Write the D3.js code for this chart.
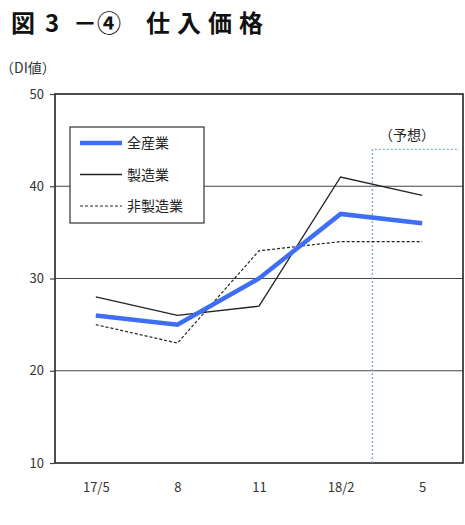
<!DOCTYPE html>
<html>
<head>
<meta charset="utf-8">
<script src="https://cdn.jsdelivr.net/npm/d3@7"></script>
<style>
  body { margin: 0; background: #fff; }
  svg text { font-family: "Noto Sans CJK JP", "Noto Sans", sans-serif; }
</style>
</head>
<body>
<svg width="465" height="525"></svg>
<script>
// data
var categories = ['17/5', '8', '11', '18/2', '5'];
var allIndustry = [26, 25, 30, 37, 36];      // 全産業
var manufacturing = [28, 26, 27, 41, 39];    // 製造業
var nonManufacturing = [25, 23, 33, 34, 34]; // 非製造業
var yTicks = [10, 20, 30, 40, 50];
var forecastTop = 44;

var seriesList = [
    {name: '全産業', values: allIndustry, color: '#3d6ef5', width: 4.5, dash: null},
    {name: '製造業', values: manufacturing, color: '#222', width: 1.3, dash: null},
    {name: '非製造業', values: nonManufacturing, color: '#222', width: 1.2, dash: '3,2'}
];

var svg = d3.select('svg');
var plotLeft = 55, plotRight = 463, plotTop = 94, plotBottom = 463;

var xScale = d3.scalePoint()
    .domain(categories)
    .range([plotLeft, plotRight])
    .padding(0.5);

var yScale = d3.scaleLinear()
    .domain([10, 50])
    .range([plotBottom, plotTop]);

// title, split in pieces to get the wide spacing of the original
var title = svg.append('text')
    .attr('y', 32)
    .attr('font-size', 24).attr('font-weight', 'bold')
    .attr('fill', '#111');
title.append('tspan').attr('x', 11).text('図');
title.append('tspan').attr('x', 45).text('3');
title.append('tspan').attr('x', 73).text('－④');
title.append('tspan').attr('x', 146).attr('letter-spacing', 7).text('仕入価格');

svg.append('text')
    .attr('x', 0).attr('y', 73)
    .attr('font-size', 14).attr('fill', '#333')
    .text('（DI値）');

// gridlines
yTicks.filter(d => d > 10 && d < 50).forEach(function(t){
    svg.append('line')
        .attr('x1', plotLeft).attr('x2', plotRight)
        .attr('y1', yScale(t)).attr('y2', yScale(t))
        .attr('stroke', '#444').attr('stroke-width', 1.2);
});

// frame
svg.append('rect')
    .attr('x', plotLeft).attr('y', plotTop)
    .attr('width', plotRight - plotLeft).attr('height', plotBottom - plotTop)
    .attr('fill', 'none').attr('stroke', '#222').attr('stroke-width', 1.6);

// y axis
var yAxisG = svg.append('g')
    .attr('transform', `translate(${plotLeft},0)`)
    .call(d3.axisLeft(yScale).tickValues(yTicks).tickSize(5).tickPadding(6));
yAxisG.select('.domain').remove();
yAxisG.selectAll('line').attr('stroke', '#444').attr('stroke-width', 1.2);
yAxisG.selectAll('text').attr('font-size', 13).attr('fill', '#333')
    .style('font-family', '"Noto Sans CJK JP", sans-serif');

// x axis labels
var xAxisG = svg.append('g')
    .attr('transform', `translate(0,${plotBottom})`)
    .call(d3.axisBottom(xScale).tickSize(0).tickPadding(20));
xAxisG.select('.domain').remove();
xAxisG.selectAll('text').attr('font-size', 13).attr('fill', '#333')
    .style('font-family', '"Noto Sans CJK JP", sans-serif');

// forecast marker
var step = xScale.step();
var fx = xScale('18/2') + step * 0.39;
svg.append('path')
    .attr('d', `M${fx},${plotBottom} L${fx},${yScale(forecastTop)} L${plotRight - 4},${yScale(forecastTop)}`)
    .attr('fill', 'none')
    .attr('stroke', '#7fa8d8').attr('stroke-width', 1.4)
    .attr('stroke-dasharray', '2,2');

svg.append('text')
    .attr('x', 407).attr('y', 140)
    .attr('text-anchor', 'middle')
    .attr('font-size', 14).attr('fill', '#222')
    .text('（予想）');

// series lines
var line = d3.line()
    .x((d, i) => xScale(categories[i]))
    .y(d => yScale(d));

seriesList.slice().reverse().forEach(function(s){
    svg.append('path')
        .attr('d', line(s.values))
        .attr('fill', 'none')
        .attr('stroke', s.color)
        .attr('stroke-width', s.width)
        .attr('stroke-dasharray', s.dash)
        .attr('stroke-linejoin', 'miter');
});

// legend
var legendG = svg.append('g').attr('transform', 'translate(70,127)');
legendG.append('rect')
    .attr('width', 134).attr('height', 96)
    .attr('fill', '#fff').attr('stroke', '#333').attr('stroke-width', 1.2);

seriesList.forEach(function(s, i){
    var yy = 16 + i * 31.5;
    legendG.append('line')
        .attr('x1', 10).attr('x2', 52)
        .attr('y1', yy).attr('y2', yy)
        .attr('stroke', s.color)
        .attr('stroke-width', s.width)
        .attr('stroke-dasharray', s.dash);
    legendG.append('text')
        .attr('x', 57).attr('y', yy + 5)
        .attr('font-size', 14).attr('fill', '#222')
        .text(s.name);
});
</script>
</body>
</html>
